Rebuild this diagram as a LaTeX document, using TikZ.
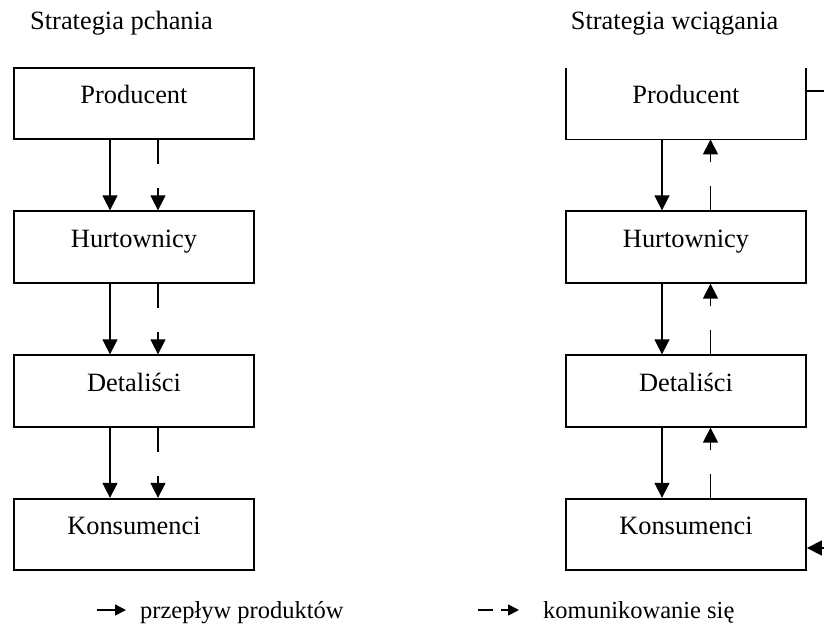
\documentclass[tikz,border=0pt]{standalone}
\usepackage{fontspec}
\setmainfont{Liberation Serif}
\usetikzlibrary{arrows.meta}

\begin{document}
\begin{tikzpicture}[x=1pt,y=-1pt,
  every node/.style={font=\fontsize{26.4}{30}\selectfont},
  box/.style={draw, line width=1.8pt, minimum width=240pt, minimum height=71.5pt,
              inner sep=0pt, text height=18pt, text depth=18pt},
  openbox/.style={minimum width=240pt, minimum height=71.5pt,
              inner sep=0pt, text height=18pt, text depth=18pt},
  flow/.style={line width=1.5pt, -{Triangle[length=15pt,width=15pt]}},
  comm/.style={line width=1.5pt, dash pattern=on 24pt off 24pt on 60pt,
               -{Triangle[length=15pt,width=15pt]}},
  legflow/.style={line width=1.5pt, -{Triangle[length=11pt,width=11pt]}},
  title/.style={anchor=base west, inner sep=0pt},
  legend/.style={anchor=base west, inner sep=0pt,
                 font=\fontsize{24.5}{28}\selectfont}]

\useasboundingbox (0,0) rectangle (824,637);

% headings
\node[title] (tPush) at (30,29.5) {Strategia pchania};
\node[title] (tPull) at (570.7,29.5) {Strategia wciągania};

% push strategy column
\node[box] (pL) at (134,103.5) {Producent};
\node[box] (hL) at (134,247)   {Hurtownicy};
\node[box] (dL) at (134,391)   {Detaliści};
\node[box] (kL) at (134,534.5) {Konsumenci};

\foreach \a/\b in {pL/hL, hL/dL, dL/kL}{
  \draw[flow] ([xshift=-24pt]\a.south) -- ([xshift=-24pt]\b.north);
  \draw[comm] ([xshift=24pt]\a.south) -- ([xshift=24pt]\b.north);
}

% pull strategy column
\node[openbox] (pR) at (686,103.5) {Producent};
\draw[line width=1.8pt] (pR.north west) -- (pR.south west) -- (pR.south east) -- (pR.north east);
\node[box] (hR) at (686,247)   {Hurtownicy};
\node[box] (dR) at (686,391)   {Detaliści};
\node[box] (kR) at (686,534.5) {Konsumenci};

\foreach \a/\b in {pR/hR, hR/dR, dR/kR}{
  \draw[flow] ([xshift=-24pt]\a.south) -- ([xshift=-24pt]\b.north);
  \draw[comm] ([xshift=24.5pt]\b.north) -- ([xshift=24.5pt]\a.south);
}

% feedback loop leaving the frame on the right
\coordinate (fbTop) at (824,91);
\coordinate (fbBot) at (824,548);
\draw[line width=1.8pt] (pR.east |- fbTop) -- (fbTop);
\draw[flow] (fbBot) -- (kR.east |- fbBot);

% legend
\coordinate (lf1) at (97,610);
\coordinate (lf2) at (126,610);
\draw[legflow] (lf1) -- (lf2);
\node[legend] (lgFlow) at (140,618.5) {przepływ produktów};
\coordinate (lc1) at (478,610);
\coordinate (lc2) at (493,610);
\coordinate (lc3) at (501,610);
\coordinate (lc4) at (519,610);
\draw[line width=1.5pt] (lc1) -- (lc2);
\draw[legflow] (lc3) -- (lc4);
\node[legend] (lgComm) at (543,618.5) {komunikowanie się};

\end{tikzpicture}
\end{document}
